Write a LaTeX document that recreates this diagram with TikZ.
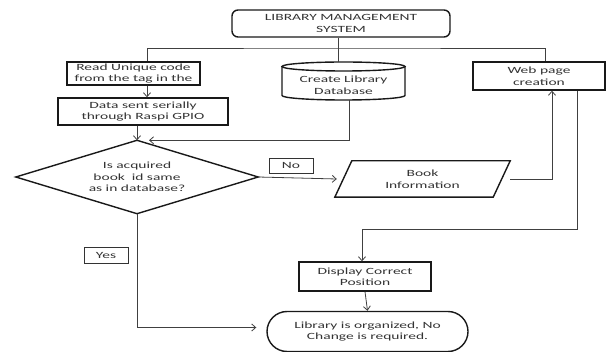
\documentclass[tikz,border=0pt]{standalone}
\usepackage{fontspec}
\setmainfont[FakeStretch=1.63]{Carlito}
\usetikzlibrary{shapes.geometric,shapes.misc,arrows.meta}
\begin{document}
\begin{tikzpicture}[x=1pt,y=-1pt,
  txt/.style={font=\fontsize{9.5}{11.5}\selectfont, text=black!80, align=center, inner sep=0pt},
  box/.style={txt, draw=black!90, line width=1.4pt},
  lbl/.style={txt, draw=black!80, line width=0.8pt},
  conn/.style={draw=black!75, line width=0.8pt},
  arr/.style={conn, -{Straight Barb[length=4pt,width=7pt]}}
]
\useasboundingbox (0,0) rectangle (615,352);

% nodes
\node[box, rounded corners=6pt, minimum width=218pt, minimum height=27pt] (lms) at (341,23.5) {LIBRARY MANAGEMENT\\SYSTEM};
\node[box, minimum width=133pt, minimum height=23pt] (read) at (133.5,73.5) {Read Unique code\\from the tag in the};
\node[box, minimum width=170pt, minimum height=27pt] (data) at (143,111.5) {Data sent serially\\through Raspi GPIO};
\node[box, minimum width=132pt, minimum height=28pt] (web) at (539,76) {Web page\\creation};

% database cylinder
\node[txt] (db) at (343.5,85) {Create Library\\Database};
\coordinate (dbtop) at (343.5,62);
\coordinate (dbbot) at (343.5,100);
\draw[draw=black!90, line width=1.4pt] (343.5,66.5) ellipse [x radius=61.5pt, y radius=4.5pt];
\draw[draw=black!90, line width=1.4pt] (282,66.5) -- (282,95.5)
  arc[start angle=180, end angle=360, x radius=61.5pt, y radius=4.5pt] -- (405,66.5);

% decision diamond
\node[txt, minimum width=242pt, minimum height=73pt] (dia) at (137,177) {Is acquired\\book\hspace{0.35em} id same\\as in database?};
\draw[draw=black!90, line width=1.4pt, line join=miter] (dia.north) -- (dia.east) -- (dia.south) -- (dia.west) -- cycle;

\node[lbl, minimum width=44pt, minimum height=15pt] (no) at (291,165.5) {No};
\node[lbl, minimum width=44pt, minimum height=16pt] (yes) at (106,255) {Yes};

% book information parallelogram
\node[txt, minimum width=158pt, minimum height=36pt] (book) at (422.5,179) {Book\\Information};
\draw[draw=black!90, line width=1.4pt] ([xshift=-8.5pt]book.south west) -- ([xshift=-8.5pt]book.south east)
  -- ([xshift=8.5pt]book.north east) -- ([xshift=8.5pt]book.north west) -- cycle;

\node[box, minimum width=132pt, minimum height=29pt] (disp) at (365,276.5) {Display Correct\\Position};
\node[box, shape=rounded rectangle, minimum width=201pt, minimum height=40pt] (term) at (367.5,331.5) {Library is organized, No\\Change is required.};

% connectors
\coordinate (hl) at (338,48);
\coordinate (j1) at (362,229);
\draw[conn] (lms.south -| hl) -- (hl |- dbtop);
\draw[conn] ([xshift=13.5pt]read.north) |- (hl) -| ([xshift=6pt]web.north);
\draw[arr] ([xshift=13.5pt]read.south) -- ([xshift=13.5pt]read.south |- data.north);
\draw[arr] (data.south -| dia.north) -- (dia.north);
\draw[arr] ([xshift=5.5pt]dbbot) |- ([xshift=12pt]dia.north);
\draw[arr] (dia.east) -- ([xshift=-6.5pt]book.west);
\draw[arr] ([xshift=8.5pt]book.east) -| ([xshift=13pt]web.south);
\draw[arr] ([xshift=38pt]web.south) |- (j1) -- (j1 |- disp.north);
\draw[arr] (disp.south) -- (term.north);
\draw[arr] (dia.south) |- ([xshift=-10pt,yshift=4pt]term.west);
\end{tikzpicture}
\end{document}
